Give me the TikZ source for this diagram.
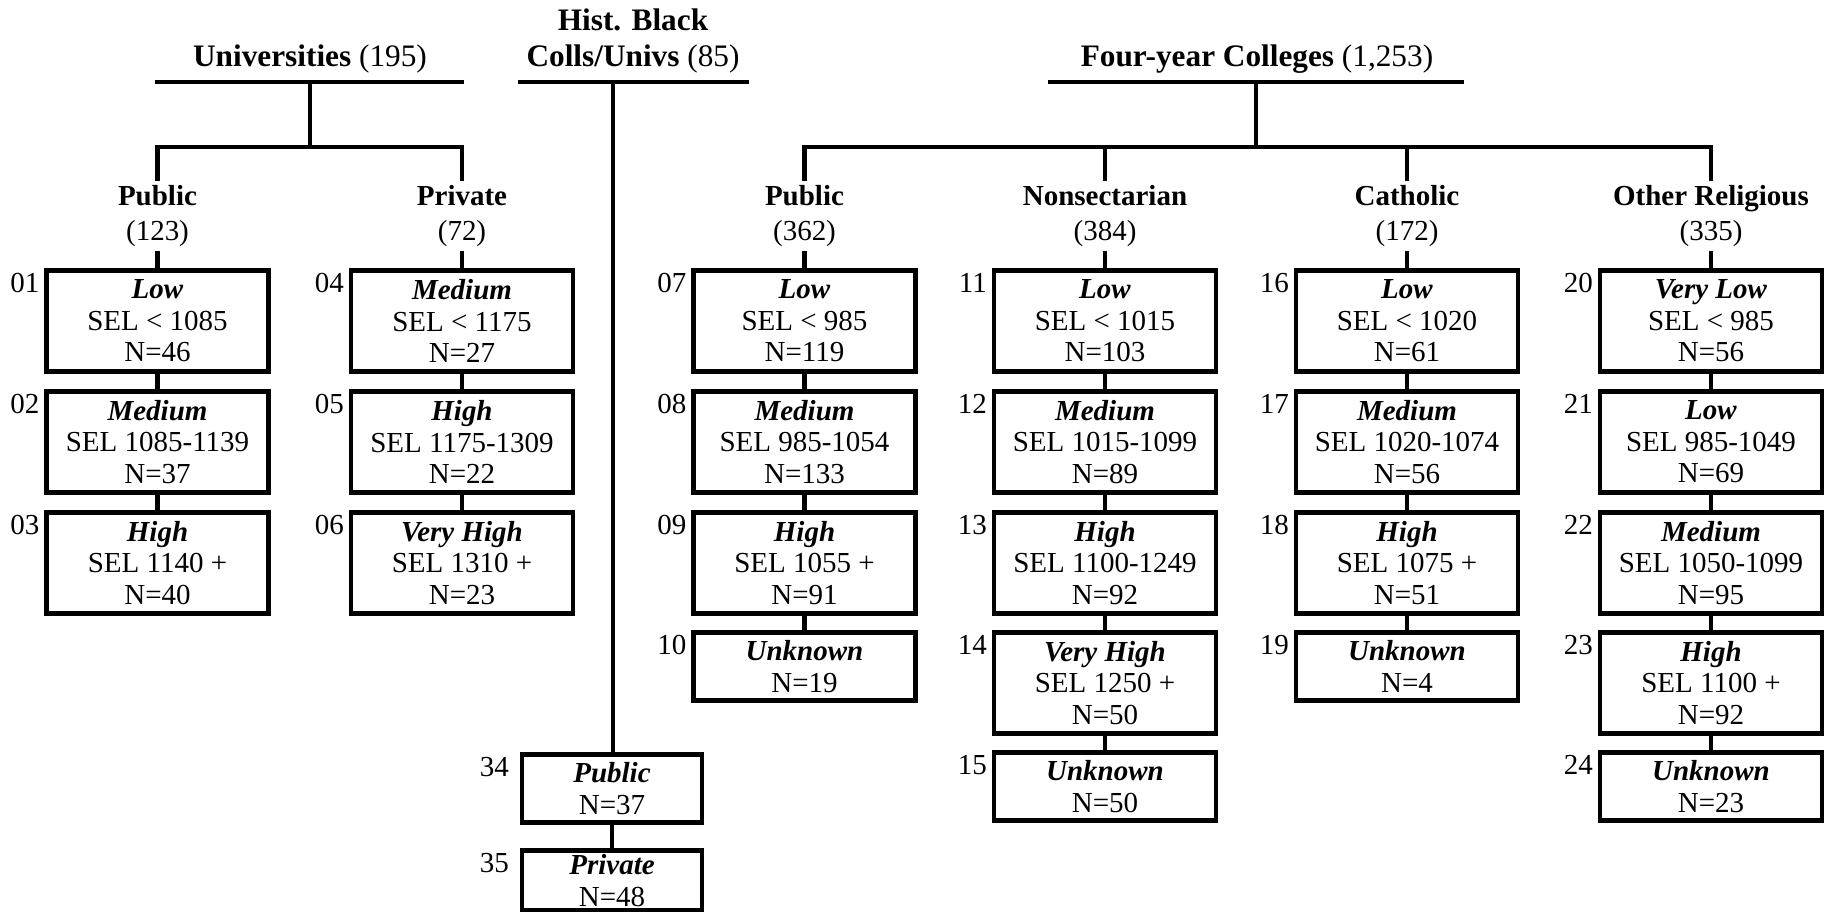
\documentclass[tikz,border=0pt]{standalone}
\usepackage{fontspec}
\setmainfont{Liberation Serif}
\newcommand\bodyfont{\fontsize{8.25pt}{9pt}\selectfont}
\newcommand\labfont{\fontsize{8.25pt}{9.7pt}\selectfont}
\newcommand\ttlfont{\fontsize{8.9pt}{10.5pt}\selectfont}
\newcommand\ctg[1]{\textbf{\textit{#1}}}
\tikzset{
 ln/.style={line width=1.4pt, line join=miter},
 box/.style={draw, line width=1.4pt, anchor=north, minimum width=22.2mm, align=center, inner sep=0pt, font=\bodyfont},
 boxiii/.style={box, minimum height=10.1mm},
 boxii/.style={box, minimum height=6.8mm},
 hbox/.style={box, minimum width=18mm},
 num/.style={anchor=base east, inner sep=0pt, font=\bodyfont},
 lab/.style={align=center, inner sep=0.5mm, outer sep=0pt, font=\labfont},
 ttl/.style={anchor=base, inner sep=0pt, font=\ttlfont},
}
\begin{document}
\begin{tikzpicture}[x=0.1mm, y=-0.1mm]
\useasboundingbox (0,0) rectangle (1830,912);

% ---------- titles ----------
\node[ttl] (tuniv) at (310,67) {\textbf{Universities} (195)};
\node[align=center, inner sep=0pt, font=\ttlfont] (thbcu) at (633,41) {\textbf{Hist. Black}\\\textbf{Colls/Univs} (85)};
\node[ttl] (tfour) at (1257,67) {\textbf{Four-year Colleges} (1,253)};

\coordinate (uL) at (155,82);  \coordinate (uR) at (464,82);  \coordinate (uM) at (310,82);
\coordinate (uBM) at (310,147);
\coordinate (hL) at (518,82);  \coordinate (hR) at (749,82);  \coordinate (hM) at (613,82);
\coordinate (fL) at (1048,82); \coordinate (fR) at (1464,82); \coordinate (fM) at (1256,82);
\coordinate (fBM) at (1256,147);

% ---------- branch labels ----------
\node[lab] (lpub1)  at (157.5,216) {\textbf{Public}\\(123)};
\node[lab] (lpriv1) at (462,216)   {\textbf{Private}\\(72)};
\node[lab] (lpub2)  at (804.5,216) {\textbf{Public}\\(362)};
\node[lab] (lnon)   at (1105,216)  {\textbf{Nonsectarian}\\(384)};
\node[lab] (lcath)  at (1407,216)  {\textbf{Catholic}\\(172)};
\node[lab] (lothr)  at (1711,216)  {\textbf{Other Religious}\\(335)};

% ---------- column 1 ----------
\node[boxiii] (b01) at (157.5,268) {\ctg{Low}\\SEL < 1085\\N=46};
\node[boxiii] (b02) at (157.5,389) {\ctg{Medium}\\SEL 1085-1139\\N=37};
\node[boxiii] (b03) at (157.5,510) {\ctg{High}\\SEL 1140 +\\N=40};
% ---------- column 2 ----------
\node[boxiii] (b04) at (462,268) {\ctg{Medium}\\SEL < 1175\\N=27};
\node[boxiii] (b05) at (462,389) {\ctg{High}\\SEL 1175-1309\\N=22};
\node[boxiii] (b06) at (462,510) {\ctg{Very High}\\SEL 1310 +\\N=23};
% ---------- column 3 ----------
\node[boxiii] (b07) at (804.5,268) {\ctg{Low}\\SEL < 985\\N=119};
\node[boxiii] (b08) at (804.5,389) {\ctg{Medium}\\SEL 985-1054\\N=133};
\node[boxiii] (b09) at (804.5,510) {\ctg{High}\\SEL 1055 +\\N=91};
\node[boxii]  (b10) at (804.5,630) {\ctg{Unknown}\\N=19};
% ---------- column 4 ----------
\node[boxiii] (b11) at (1105,268) {\ctg{Low}\\SEL < 1015\\N=103};
\node[boxiii] (b12) at (1105,389) {\ctg{Medium}\\SEL 1015-1099\\N=89};
\node[boxiii] (b13) at (1105,510) {\ctg{High}\\SEL 1100-1249\\N=92};
\node[boxiii] (b14) at (1105,630) {\ctg{Very High}\\SEL 1250 +\\N=50};
\node[boxii]  (b15) at (1105,750) {\ctg{Unknown}\\N=50};
% ---------- column 5 ----------
\node[boxiii] (b16) at (1407,268) {\ctg{Low}\\SEL < 1020\\N=61};
\node[boxiii] (b17) at (1407,389) {\ctg{Medium}\\SEL 1020-1074\\N=56};
\node[boxiii] (b18) at (1407,510) {\ctg{High}\\SEL 1075 +\\N=51};
\node[boxii]  (b19) at (1407,630) {\ctg{Unknown}\\N=4};
% ---------- column 6 ----------
\node[boxiii] (b20) at (1711,268) {\ctg{Very Low}\\SEL < 985\\N=56};
\node[boxiii] (b21) at (1711,389) {\ctg{Low}\\SEL 985-1049\\N=69};
\node[boxiii] (b22) at (1711,510) {\ctg{Medium}\\SEL 1050-1099\\N=95};
\node[boxiii] (b23) at (1711,630) {\ctg{High}\\SEL 1100 +\\N=92};
\node[boxii]  (b24) at (1711,750) {\ctg{Unknown}\\N=23};
% ---------- HBCU ----------
\node[hbox, minimum height=6.8mm] (b34) at (612,752) {\ctg{Public}\\N=37};
\node[hbox, minimum height=6.0mm] (b35) at (612,848) {\ctg{Private}\\N=48};

% ---------- numbers ----------
\foreach \b in {01,02,03,04,05,06,07,08,09,10,11,12,13,14,15,16,17,18,19,20,21,22,23,24}
  \node[num] (n\b) at ([xshift=-0.4mm,yshift=-2.5mm]b\b.north west) {\b};
\foreach \b in {34,35}
  \node[num] (n\b) at ([xshift=-1mm,yshift=-2.5mm]b\b.north west) {\b};

% ---------- connectors ----------
\draw[ln] (uL) -- (uR);
\draw[ln] (uM) -- (uBM);
\draw[ln] (lpub1) |- (uBM) -| (lpriv1);
\draw[ln] (lpub1) -- (b01);
\draw[ln] (lpriv1) -- (b04);

\draw[ln] (hL) -- (hR);
\draw[ln] (hM) -- (hM |- b34.north);
\draw[ln] (b34) -- (b35);

\draw[ln] (fL) -- (fR);
\draw[ln] (fM) -- (fBM);
\draw[ln] (lpub2) |- (fBM) -| (lothr);
\draw[ln] (fBM -| lnon) -- (lnon);
\draw[ln] (fBM -| lcath) -- (lcath);
\draw[ln] (lpub2) -- (b07);
\draw[ln] (lnon) -- (b11);
\draw[ln] (lcath) -- (b16);
\draw[ln] (lothr) -- (b20);

\draw[ln] (b01) -- (b02); \draw[ln] (b02) -- (b03);
\draw[ln] (b04) -- (b05); \draw[ln] (b05) -- (b06);
\draw[ln] (b07) -- (b08); \draw[ln] (b08) -- (b09); \draw[ln] (b09) -- (b10);
\draw[ln] (b11) -- (b12); \draw[ln] (b12) -- (b13); \draw[ln] (b13) -- (b14); \draw[ln] (b14) -- (b15);
\draw[ln] (b16) -- (b17); \draw[ln] (b17) -- (b18); \draw[ln] (b18) -- (b19);
\draw[ln] (b20) -- (b21); \draw[ln] (b21) -- (b22); \draw[ln] (b22) -- (b23); \draw[ln] (b23) -- (b24);
\end{tikzpicture}
\end{document}
